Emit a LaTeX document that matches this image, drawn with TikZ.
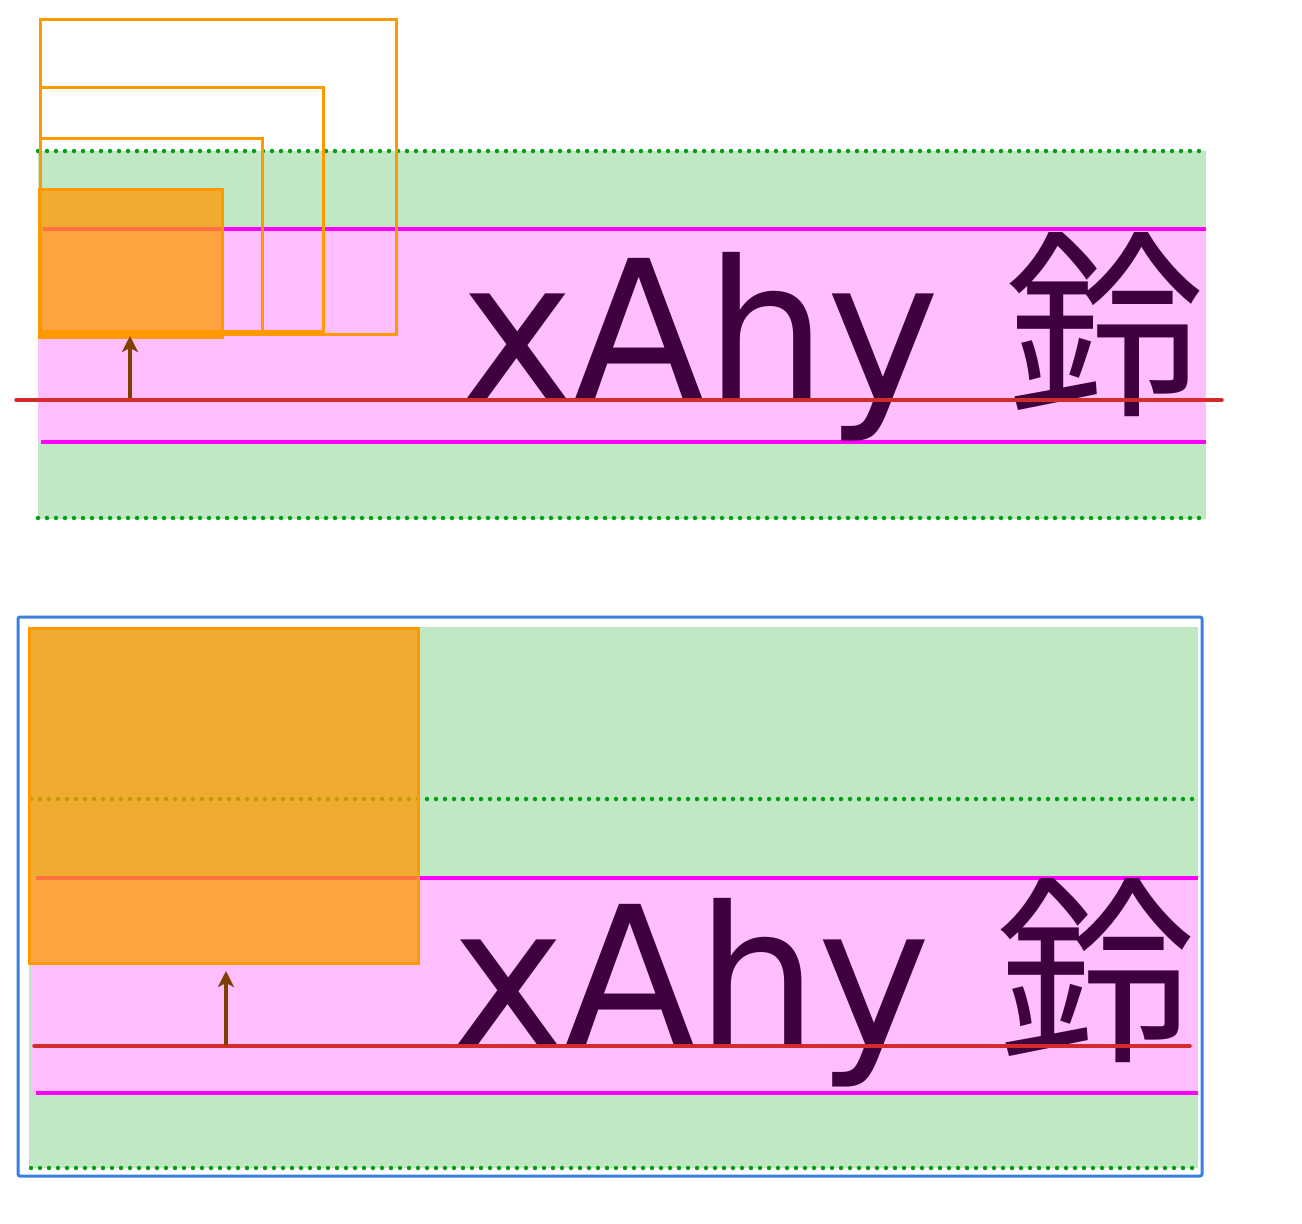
\documentclass[tikz,border=0pt]{standalone}
\usepackage{fontspec}
\setmainfont{DejaVu Sans}
\newfontfamily\samplefont[FakeStretch=0.985]{DejaVu Sans}
\newfontfamily\cjkfont{Noto Sans CJK JP}
\usetikzlibrary{arrows.meta}
\definecolor{bandgreen}{HTML}{C0E8C4}
\definecolor{bandpink}{HTML}{FFBFFF}
\definecolor{dotgreen}{HTML}{00A010}
\definecolor{lineMag}{HTML}{FF00FF}
\definecolor{baseRed}{HTML}{D42A2A}
\definecolor{boxOrange}{HTML}{FF9900}
\definecolor{arrowBrown}{HTML}{7F3F00}
\definecolor{textPurple}{HTML}{3F003F}
\definecolor{frameBlue}{HTML}{3A80E0}
\newcommand{\samplestring}{xAhy {\fontsize{200}{230}\selectfont\cjkfont\kern4pt 鈴}}
\begin{document}
\begin{tikzpicture}[x=1pt,y=-1pt,
  dotline/.style={dotgreen, line width=4.5pt, line cap=round, dash pattern=on 0pt off 9pt},
  magline/.style={lineMag, line width=3.5pt},
  redline/.style={baseRed, line width=3.5pt, line cap=round},
  frameline/.style={draw=boxOrange, line width=3pt},
  filledbox/.style={draw=boxOrange, line width=3pt, fill=boxOrange, fill opacity=0.75, draw opacity=1, inner sep=0pt, outer sep=0pt, anchor=north west},
  upar/.style={arrowBrown, line width=3.5pt, -{Stealth[length=16pt,width=16pt,inset=4pt]}},
  sample/.style={inner sep=0pt, outer sep=0pt, anchor=base west, text=textPurple, font=\samplefont\fontsize{195}{230}\selectfont}
]
\useasboundingbox (0,0) rectangle (1302,1224);

% ---------- top diagram ----------
\fill[bandgreen] (38,151) rectangle (1206,519);
\fill[bandpink] (38,229) rectangle (1206,442);
\draw[dotline] (38,151) -- (1206,151);
\draw[dotline] (38,518) -- (1206,518);
\draw[magline] (43,229) -- (1206,229);
\draw[magline] (41,442) -- (1206,442);
\node[sample] (txt1) at (460,400) {\samplestring};
\draw[redline] (16,400) -- (1222,400);
\draw[frameline] (40,19) rectangle (396,334);
\draw[frameline] (40,87) rectangle (323,331);
\draw[frameline] (40,138) rectangle (262,331);
\node[filledbox, minimum width=183pt, minimum height=148pt] (box1) at (39,189) {};
\coordinate (base1) at (130,398);
\draw[upar] (base1) -- ([yshift=1pt]box1.south -| base1);

% ---------- bottom diagram ----------
\draw[frameBlue, line width=3pt, rounded corners=2pt] (18,617) rectangle (1202,1176);
\fill[bandgreen] (29,627) rectangle (1198,1168);
\fill[bandpink] (31,878) rectangle (1198,1093);
\draw[dotline] (31,799) -- (1196,799);
\draw[dotline] (31,1168) -- (1196,1168);
\draw[magline] (36,878) -- (1198,878);
\draw[magline] (36,1093) -- (1198,1093);
\node[sample] (txt2) at (451,1046) {\samplestring};
\draw[redline] (34,1046) -- (1190,1046);
\node[filledbox, minimum width=389pt, minimum height=335pt] (box2) at (29,628) {};
\coordinate (base2) at (226,1045);
\draw[upar] (base2) -- ([yshift=-8pt]box2.south -| base2);
\end{tikzpicture}
\end{document}
